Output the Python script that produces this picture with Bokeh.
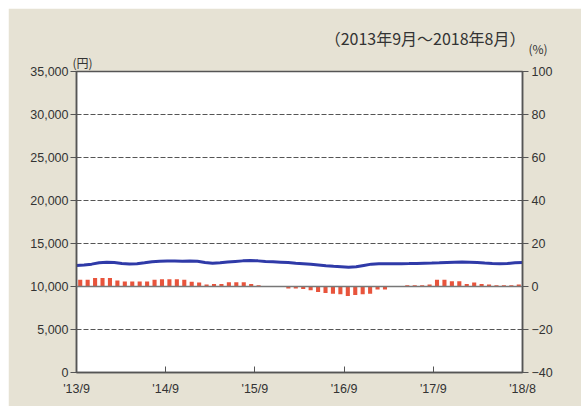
import numpy as np
from bokeh.plotting import figure
from bokeh.models import (Range1d, LinearAxis, FixedTicker, NumeralTickFormatter,
                          Title, Span)
from bokeh.embed import file_html
from bokeh.resources import INLINE

# ---- data ----
months = list(range(60))  # 2013/9 ... 2018/8
price_yen = [12450, 12500, 12600, 12750, 12830, 12780, 12680, 12620, 12650, 12750,
             12880, 12950, 12960, 12960, 12950, 12960, 12940, 12800, 12700, 12750,
             12850, 12920, 12980, 13020, 12980, 12900, 12870, 12830, 12780, 12700,
             12650, 12580, 12500, 12420, 12350, 12300, 12250, 12300, 12450, 12600,
             12640, 12650, 12640, 12650, 12660, 12680, 12700, 12720, 12750, 12800,
             12830, 12850, 12820, 12780, 12720, 12680, 12650, 12680, 12750, 12800]
change_pct = [3.1, 3.1, 3.9, 3.9, 3.9, 2.8, 2.3, 2.3, 2.3, 2.3,
              3.1, 3.4, 3.4, 3.4, 3.1, 2.2, 1.9, 0.9, 1.2, 1.2,
              2.0, 2.0, 2.0, 1.2, 0.6, 0.2, 0.0, 0.0, -0.9, -0.9,
              -1.2, -1.8, -2.6, -3.0, -3.4, -3.6, -4.4, -4.0, -3.6, -3.4,
              -1.4, -1.4, 0.0, 0.0, 0.6, 0.6, 0.6, 0.9, 3.1, 3.1,
              2.5, 2.5, 1.2, 1.9, 1.2, 0.9, 0.6, 0.6, 0.6, 0.9]
x_tick_pos = [0, 12, 24, 36, 48, 60]
x_tick_labels = ["'13/9", "'14/9", "'15/9", "'16/9", "'17/9", "'18/8"]
yen_ticks = [0, 5000, 10000, 15000, 20000, 25000, 30000, 35000]
pct_ticks = [-40, -20, 0, 20, 40, 60, 80, 100]
title_text = "（2013年9月～2018年8月）"
yen_unit = "(円)"
pct_unit = "(%)"

BEIGE = "#e6e2d4"
TXT = "#333333"
AX = "#555555"
FONT = "Liberation Sans"
JFONT = "Noto Sans CJK JP"

p = figure(width=573, height=398, output_backend="svg", toolbar_location=None,
           x_range=Range1d(0, 60), y_range=Range1d(0, 35000),
           min_border_left=68, min_border_right=59, min_border_top=63,
           min_border_bottom=34, border_fill_color=BEIGE,
           background_fill_color="white", outline_line_color=AX,
           outline_line_width=1.5)
p.margin = (8, 0, 0, 8)
p.extra_y_ranges = {"pct": Range1d(-40, 100)}

# grid
p.xgrid.visible = False
p.ygrid.ticker = FixedTicker(ticks=yen_ticks)
p.ygrid.grid_line_color = "#555555"
p.ygrid.grid_line_dash = "5 2"
p.ygrid.grid_line_width = 1

# zero % line
p.add_layout(Span(location=0, dimension="width", y_range_name="pct",
                  line_color="#777777", line_width=1.5))

# bars
bar_x = [m + 0.5 for m in months]
p.vbar(x=bar_x, top=change_pct, bottom=0, width=0.55, y_range_name="pct",
       fill_color="#e8543c", line_color=None)

# line (edge to edge)
line_x = [m * 60 / 59 for m in months]
p.line(line_x, price_yen, line_color="#2f3aa8", line_width=3)

# left axis
la = p.yaxis[0]
la.ticker = FixedTicker(ticks=yen_ticks)
la.formatter = NumeralTickFormatter(format="0,0")
la.major_tick_out = 6
la.major_tick_in = 0
la.minor_tick_line_color = None
la.major_label_standoff = 2
la.axis_line_color = AX
la.axis_line_width = 1.5
la.major_tick_line_color = AX
la.major_label_text_font = FONT
la.major_label_text_font_size = "12.5px"
la.major_label_text_color = TXT

# right axis
ra = LinearAxis(y_range_name="pct", ticker=FixedTicker(ticks=pct_ticks))
ra.major_tick_out = 6
ra.major_tick_in = 0
ra.minor_tick_line_color = None
ra.major_label_standoff = 3
ra.axis_line_color = AX
ra.axis_line_width = 1.5
ra.major_tick_line_color = AX
ra.major_label_text_font = FONT
ra.major_label_text_font_size = "12.5px"
ra.major_label_text_color = TXT
p.add_layout(ra, "right")

# bottom axis
xa = p.xaxis[0]
xa.ticker = FixedTicker(ticks=x_tick_pos)
xa.major_label_overrides = {t: l for t, l in zip(x_tick_pos, x_tick_labels)}
xa.major_tick_in = 6
xa.major_tick_out = 0
xa.minor_tick_line_color = None
xa.major_label_standoff = 9
xa.axis_line_color = AX
xa.axis_line_width = 1.5
xa.major_tick_line_color = AX
xa.major_label_text_font = FONT
xa.major_label_text_font_size = "12.5px"
xa.major_label_text_color = TXT

# texts (stacked above the frame, nearest first)
p.title.visible = False
t_yen = Title(text=yen_unit, align="left", offset=-4, standoff=2,
              text_font=JFONT, text_font_size="12px", text_color=TXT,
              text_font_style="normal")
t_pct = Title(text=pct_unit, align="left", offset=452, standoff=-13,
              text_font=JFONT, text_font_size="12px", text_color=TXT,
              text_font_style="normal")
t_main = Title(text=title_text, align="right", offset=-3, standoff=-11,
               text_font=JFONT, text_font_size="16px", text_color=TXT,
               text_font_style="normal")
p.add_layout(t_yen, "above")
p.add_layout(t_pct, "above")
p.add_layout(t_main, "above")

open("out.html", "w").write(file_html(p, INLINE))
